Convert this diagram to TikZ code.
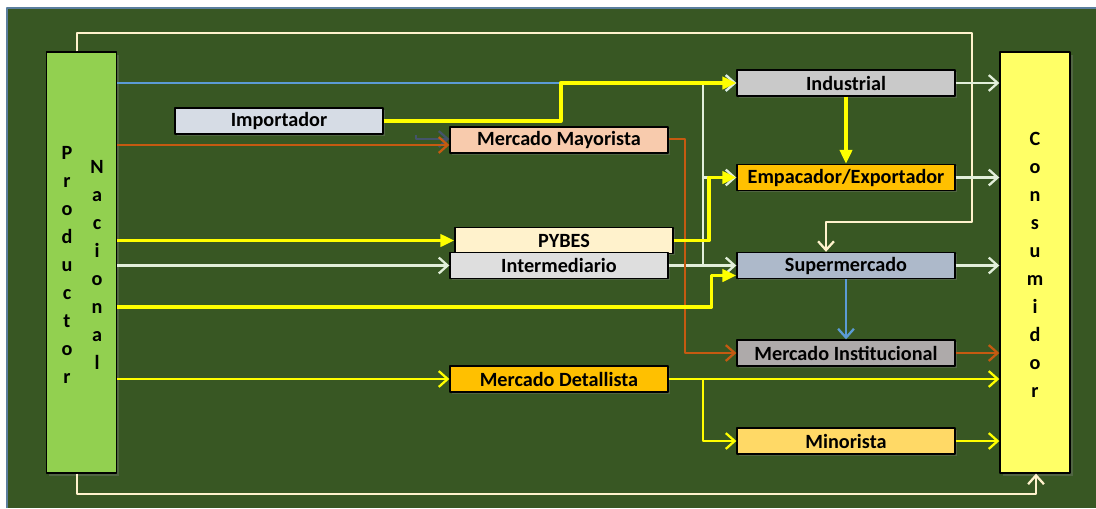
\documentclass[tikz,border=0pt]{standalone}
\usepackage{fontspec}
\setmainfont{Carlito}
\usetikzlibrary{arrows.meta,calc,shadows}
\definecolor{panel}{HTML}{385723}
\definecolor{panelrim}{HTML}{5A7E9E}
\definecolor{prodfill}{HTML}{92D050}
\definecolor{consfill}{HTML}{FFFF66}
\definecolor{impfill}{HTML}{D6DCE5}
\definecolor{mayfill}{HTML}{F8CBAD}
\definecolor{indfill}{HTML}{C9C9C9}
\definecolor{orangefill}{HTML}{FFC000}
\definecolor{pybfill}{HTML}{FFF2CC}
\definecolor{interfill}{HTML}{DEDEDE}
\definecolor{supfill}{HTML}{ADB9CA}
\definecolor{instfill}{HTML}{AEAAAA}
\definecolor{minofill}{HTML}{FFD966}
\definecolor{lnyellow}{HTML}{FFFF00}
\definecolor{lnlight}{HTML}{E2EFDA}
\definecolor{lnblue}{HTML}{5B9BD5}
\definecolor{lnbrown}{HTML}{C55A11}
\definecolor{lndark}{HTML}{44546A}
\definecolor{lncream}{HTML}{FFF2CC}
\begin{document}
\begin{tikzpicture}[x=0.02cm, y=-0.02cm, line join=round,
	box/.style={draw=black, line width=0.8pt, minimum width=4.36cm, minimum height=0.52cm, inner sep=0pt,
		font=\bfseries\fontsize{11.5}{12}\selectfont, drop shadow={shadow xshift=1pt, shadow yshift=-1pt, opacity=0.35}},
	bar/.style={draw=black, line width=0.8pt, minimum width=1.41cm, minimum height=8.42cm, inner sep=0pt,
		drop shadow={shadow xshift=1.5pt, shadow yshift=-1.5pt, opacity=0.35}},
	vtext/.style={align=center, inner sep=0pt, font=\bfseries\fontsize{11.5}{15.9}\selectfont},
	ylw/.style={draw=lnyellow, line width=2.2pt, -{Triangle[length=8pt,width=7pt]}},
	ylwthin/.style={draw=lnyellow, line width=1.3pt, -{Straight Barb[length=5pt,width=9pt]}},
	light/.style={draw=lnlight, line width=1.3pt, -{Straight Barb[length=5pt,width=9pt]}},
	brown/.style={draw=lnbrown, line width=1.3pt, -{Straight Barb[length=5pt,width=9pt]}},
	cream/.style={draw=lncream, line width=1.3pt, -{Straight Barb[length=5pt,width=9pt]}}]
	\useasboundingbox (0,0) rectangle (1096,508);
	\fill[panel] (7,8) rectangle (1096,508);
	\draw[panelrim, line width=0.6pt] (7,508) -- (7,8) -- (1096,8);
	% productor y consumidor
	\node[bar, fill=prodfill] (prod) at (81.5,262.5) {};
	\node[bar, fill=consfill, minimum width=1.4cm] (cons) at (1035,262.5) {};
	\node[vtext] (prodtxt) at (67,265) {P\\r\\o\\d\\u\\c\\t\\o\\r};
	\node[vtext] (nactxt) at (97,265) {N\\a\\c\\i\\o\\n\\a\\l};
	\node[vtext] (constxt) at (1035,265) {C\\o\\n\\s\\u\\m\\i\\d\\o\\r};
	% intermediarios
	\node[box, fill=impfill, minimum width=4.16cm] (imp) at (279,121) {Importador};
	\node[box, fill=mayfill] (may) at (559,140) {Mercado Mayorista};
	\node[box, fill=indfill] (ind) at (846,83) {Industrial};
	\node[box, fill=orangefill] (emp) at (846,177.5) {Empacador/Exportador};
	\node[box, fill=pybfill] (pyb) at (564,240.5) {PYBES};
	\node[box, fill=interfill] (inter) at (559,265.5) {Intermediario};
	\node[box, fill=supfill] (sup) at (846,265.5) {Supermercado};
	\node[box, fill=instfill] (inst) at (846,353) {Mercado Institucional};
	\node[box, fill=orangefill] (det) at (559,379) {Mercado Detallista};
	\node[box, fill=minofill] (mino) at (846,441) {Minorista};
	% canales
	\draw[cream] ($(prod.north)+(-4.5,0)$) -- ++(0,-18) -| (972,222) -| ($(sup.north)+(-20,0)$);
	\draw[cream] ($(prod.south)+(-4.5,0)$) -- ++(0,20) -| ($(cons.south)+(1,0)$);
	\draw[draw=lnblue, line width=1.3pt, -{Straight Barb[length=5pt,width=9pt]}] (prod.east |- ind.west) -- (ind.west);
	\draw[light] (prod.east |- inter.west) -- (inter.west);
	\draw[light] (inter.east) -- (sup.west);
	\draw[light] ($(inter.east)+(34,0)$) |- (ind.west);
	\draw[light] ($(inter.east)+(34,0)$) |- (emp.west);
	\draw[light] (ind.east) -- (cons.west |- ind.east);
	\draw[light] (emp.east) -- (cons.west |- emp.east);
	\draw[light] (sup.east) -- (cons.west |- sup.east);
	\draw[draw=lndark, line width=1.3pt, -{Straight Barb[length=5pt,width=9pt]}] ($(imp.south east)+(32,0)$) |- ($(may.west)+(0,-1)$);
	\draw[brown] ($(prod.east |- may.west)+(0,5)$) -- ($(may.west)+(0,5)$);
	\draw[brown] ($(may.east)+(0,-1)$) -- ++(16,0) |- (inst.west);
	\draw[brown] (inst.east) -- (cons.west |- inst.east);
	\draw[draw=lnblue, line width=1.3pt, -{Straight Barb[length=5pt,width=9pt]}] (sup.south) -- (inst.north);
	\draw[ylw] (imp.east) -- ++(177,0) |- (ind.west);
	\draw[ylw] (ind.south) -- (emp.north);
	\draw[ylw] (prod.east |- pyb.west) -- (pyb.west);
	\draw[ylw] (pyb.east) -- ++(35,0) |- (emp.west);
	\draw[ylw] ($(prod.east |- sup.west)+(0,41.5)$) -- ++(594,0) |- ($(sup.west)+(0,10)$);
	\draw[ylwthin] (prod.east |- det.west) -- (det.west);
	\draw[ylwthin] (det.east) -- (cons.west |- det.east);
	\draw[ylwthin] ($(det.east)+(34,0)$) |- (mino.west);
	\draw[ylwthin] (mino.east) -- (cons.west |- mino.east);
\end{tikzpicture}
\end{document}
